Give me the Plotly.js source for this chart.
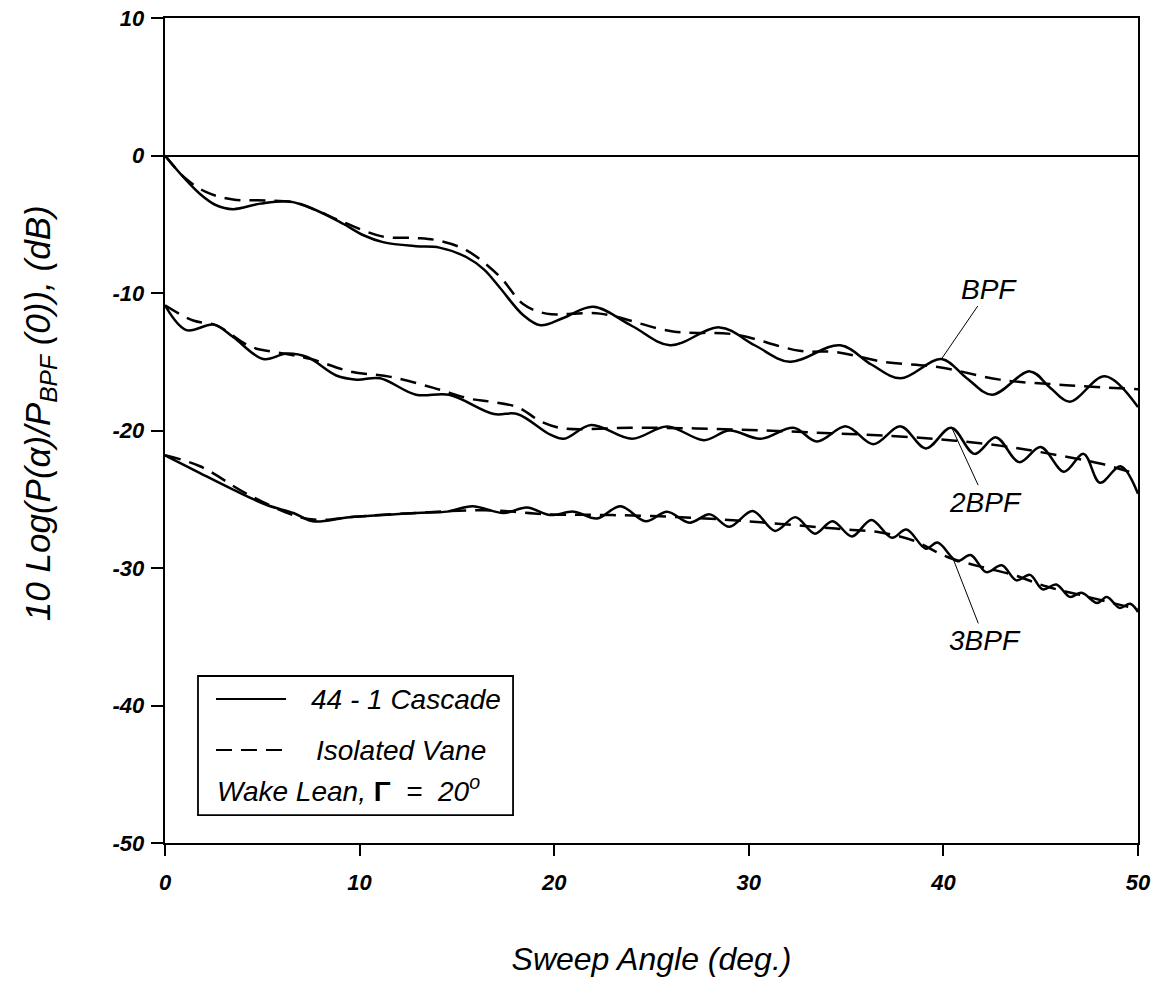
<!DOCTYPE html>
<html>
<head>
<meta charset="utf-8">
<script src="https://cdn.plot.ly/plotly-3.0.1.min.js"></script>
<style>
  html, body { margin: 0; padding: 0; background: #fff; }
  #chart { width: 1160px; height: 986px; }
</style>
</head>
<body>
<div id="chart"></div>
<script>
// Sweep angle (deg.) vs. relative level (dB) for BPF, 2BPF and 3BPF

// BPF, 44 - 1 cascade
const bpfCascadeX = [0, 0.9, 1.8, 2.6, 3.5, 4.9, 6.4, 7.8, 9.2, 10.2, 11.2, 12.9, 14.1, 15.5, 16.4, 17.2, 18.4, 19.3, 20.5, 22.0, 24.0, 25.95, 28.5, 30.3, 32.1, 34.7, 36.3, 37.8, 39.9, 41.2, 42.5, 44.45, 45.5, 46.5, 48.3, 50];
const bpfCascadeY = [0, -1.5, -2.8, -3.6, -3.9, -3.5, -3.35, -4.0, -5.0, -5.8, -6.3, -6.6, -6.7, -7.4, -8.3, -9.6, -11.6, -12.35, -11.8, -11.0, -12.4, -13.8, -12.5, -13.8, -15.0, -13.8, -15.2, -16.2, -14.8, -16.2, -17.4, -15.7, -16.9, -17.9, -16.05, -18.3];

// BPF, isolated vane
const bpfVaneX = [0, 1.0, 2.1, 3.5, 5.2, 6.8, 7.8, 9.15, 11.2, 12.9, 14.1, 15.5, 17.2, 18.4, 19.6, 22.35, 26.1, 29.2, 32.6, 34.5, 36.9, 39.8, 42.9, 46.3, 50];
const bpfVaneY = [0, -1.6, -2.65, -3.2, -3.27, -3.46, -4.0, -4.84, -5.9, -6.0, -6.2, -6.9, -8.8, -10.8, -11.5, -11.5, -12.8, -13.0, -14.2, -14.3, -15.0, -15.4, -16.3, -16.7, -17.0];

// 2BPF, 44 - 1 cascade
const bpf2CascadeX = [0, 1.1, 2.5, 3.5, 5.05, 6.25, 7.3, 8.8, 9.85, 11.05, 12.9, 14.6, 16.9, 18.1, 19.8, 20.5, 21.9, 24.0, 25.8, 27.7, 29.0, 30.6, 32.3, 33.5, 35.0, 36.4, 37.8, 39.1, 40.4, 41.6, 42.7, 43.9, 45.0, 46.2, 47.2, 48.05, 49.1, 50];
const bpf2CascadeY = [-10.9, -12.7, -12.3, -13.2, -14.8, -14.4, -14.65, -16.0, -16.3, -16.2, -17.4, -17.4, -18.8, -18.8, -20.3, -20.6, -19.6, -20.6, -19.7, -20.7, -20.0, -20.6, -19.8, -20.8, -19.7, -21.0, -19.7, -21.3, -19.8, -21.7, -20.5, -22.3, -21.2, -23.0, -21.7, -23.8, -22.6, -24.6];

// 2BPF, isolated vane
const bpf2VaneX = [0, 1.45, 2.65, 4.4, 6.1, 7.5, 9.5, 11.6, 13.8, 15.7, 16.7, 18.1, 19.4, 20.5, 23.9, 27.3, 30.75, 34.2, 36.05, 39.5, 42.9, 45.5, 48.05, 50];
const bpf2VaneY = [-10.9, -12.0, -12.35, -13.9, -14.4, -14.8, -15.7, -16.1, -16.9, -17.7, -17.9, -18.3, -19.4, -19.85, -19.8, -19.85, -20.0, -20.2, -20.3, -20.6, -21.1, -21.7, -22.4, -23.2];

// 3BPF, 44 - 1 cascade
const bpf3CascadeX = [0, 1.8, 3.5, 5.2, 6.6, 7.6, 9.5, 12.9, 14.5, 15.8, 17.4, 18.6, 19.8, 21.0, 22.2, 23.4, 24.7, 25.8, 26.95, 28.0, 29.0, 30.2, 31.35, 32.4, 33.4, 34.3, 35.3, 36.3, 37.35, 38.1, 39.1, 39.7, 40.7, 41.4, 42.2, 43.0, 43.75, 44.45, 45.1, 45.8, 46.5, 47.1, 47.9, 48.4, 49.05, 49.6, 50];
const bpf3CascadeY = [-21.8, -23.1, -24.3, -25.4, -26.0, -26.6, -26.3, -26.0, -25.9, -25.5, -26.0, -25.6, -26.15, -25.9, -26.4, -25.5, -26.6, -25.9, -26.7, -26.1, -27.0, -25.85, -27.3, -26.3, -27.5, -26.6, -27.7, -26.5, -27.8, -27.2, -28.6, -28.15, -29.5, -29.05, -30.3, -29.8, -30.9, -30.5, -31.55, -31.2, -32.1, -31.8, -32.55, -32.1, -32.9, -32.6, -33.2];

// 3BPF, isolated vane
const bpf3VaneX = [0, 1.8, 4.2, 6.9, 8.2, 9.5, 12.9, 16.4, 19.8, 23.0, 26.5, 29.9, 33.3, 35.0, 36.7, 38.45, 40.2, 41.9, 43.6, 45.3, 47.0, 48.7, 50];
const bpf3VaneY = [-21.8, -22.6, -24.6, -26.3, -26.5, -26.3, -26.0, -25.8, -26.1, -26.15, -26.3, -26.6, -27.0, -27.2, -27.4, -28.0, -29.2, -29.9, -30.5, -31.35, -31.95, -32.55, -33.0];

// Axis ticks
const xTicks = [0, 10, 20, 30, 40, 50];
const yTicks = [-50, -40, -30, -20, -10, 0, 10];

// Curve labels and the points their leader lines touch
const labelText = ['BPF', '2BPF', '3BPF'];
const labelX = [39.9, 40.44, 40.49];
const labelY = [-14.8, -19.83, -29.3];

const FONT = 'Liberation Sans, Arial, sans-serif';
const INK = '#000';
const DASH = '16px,9px';

function curve(x, y, dashed) {
  return {
    x: x, y: y, type: 'scatter', mode: 'lines', showlegend: false, hoverinfo: 'skip',
    line: { color: INK, width: 2.5, shape: 'spline', smoothing: 1, dash: dashed ? DASH : 'solid' }
  };
}

const traces = [
  curve(bpfCascadeX, bpfCascadeY, false),
  curve(bpfVaneX, bpfVaneY, true),
  curve(bpf2CascadeX, bpf2CascadeY, false),
  curve(bpf2VaneX, bpf2VaneY, true),
  curve(bpf3CascadeX, bpf3CascadeY, false),
  curve(bpf3VaneX, bpf3VaneY, true)
];

// Leader-line label offsets (px)
const labelAx = [48, 34, 32];
const labelAy = [-70, 74, 82];

const annotations = labelText.map((t, i) => ({
  x: labelX[i], y: labelY[i], xref: 'x', yref: 'y',
  text: t, showarrow: true, arrowhead: 0, arrowwidth: 1, arrowcolor: INK,
  ax: labelAx[i], ay: labelAy[i], standoff: 0,
  font: { family: FONT, size: 28, color: INK, style: 'italic' }
}));

// Y-axis title, set vertically along the left margin
annotations.push({
  xref: 'paper', yref: 'paper', x: -0.1285, y: 0.521, xanchor: 'center', yanchor: 'middle',
  textangle: -90, showarrow: false,
  text: '10 Log(P(α)/P<sub>BPF</sub> (0)), (dB)',
  font: { family: FONT, size: 35, color: INK, style: 'italic' }
});

// Key box contents
const keyFont = { family: FONT, size: 28, color: INK, style: 'italic' };
annotations.push(
  { xref: 'paper', yref: 'paper', x: 0.148, y: 0.1745, xanchor: 'left', yanchor: 'middle',
    text: '44 - 1 Cascade', showarrow: false, font: keyFont },
  { xref: 'paper', yref: 'paper', x: 0.1531, y: 0.1127, xanchor: 'left', yanchor: 'middle',
    text: 'Isolated Vane', showarrow: false, font: keyFont },
  { xref: 'paper', yref: 'paper', x: 0.0514, y: 0.066, xanchor: 'left', yanchor: 'middle',
    text: 'Wake Lean, <span style="font-style:normal;font-weight:bold">Γ</span>  =  20<sup>o</sup>',
    showarrow: false, font: keyFont }
);

const shapes = [
  { type: 'rect', xref: 'paper', yref: 'paper', x0: 0.0339, x1: 0.3577, y0: 0.0339, y1: 0.2024,
    line: { color: INK, width: 1.8 }, fillcolor: 'rgba(0,0,0,0)' },
  { type: 'line', xref: 'paper', yref: 'paper', x0: 0.0524, x1: 0.1244, y0: 0.1745, y1: 0.1745,
    line: { color: INK, width: 2 } },
  { type: 'line', xref: 'paper', yref: 'paper', x0: 0.0524, x1: 0.1244, y0: 0.1127, y1: 0.1127,
    line: { color: INK, width: 2, dash: DASH } }
];

const tickFont = { family: FONT, size: 22, color: INK, style: 'italic', weight: 'bold' };

const layout = {
  width: 1160, height: 986,
  margin: { l: 165, r: 22, t: 18, b: 143 },
  paper_bgcolor: '#fff', plot_bgcolor: '#fff',
  showlegend: false,
  xaxis: {
    range: [0, 50], tickvals: xTicks, ticktext: xTicks.map(String),
    showgrid: false, zeroline: false,
    showline: true, linecolor: INK, linewidth: 2.4, mirror: true,
    ticks: 'outside', ticklen: 11, tickwidth: 2, tickcolor: INK,
    ticklabelstandoff: 7,
    tickfont: tickFont,
    title: { text: 'Sweep Angle (deg.)', standoff: 54,
             font: { family: FONT, size: 32, color: INK, style: 'italic' } }
  },
  yaxis: {
    range: [-50, 10], tickvals: yTicks, ticktext: yTicks.map(String),
    showgrid: false, zeroline: true, zerolinecolor: INK, zerolinewidth: 2,
    showline: true, linecolor: INK, linewidth: 2.4, mirror: true,
    ticks: 'outside', ticklen: 12, tickwidth: 2, tickcolor: INK,
    ticklabelstandoff: 2,
    tickfont: tickFont
  },
  annotations: annotations,
  shapes: shapes
};

Plotly.newPlot('chart', traces, layout, { displayModeBar: false, staticPlot: true });
</script>
</body>
</html>
